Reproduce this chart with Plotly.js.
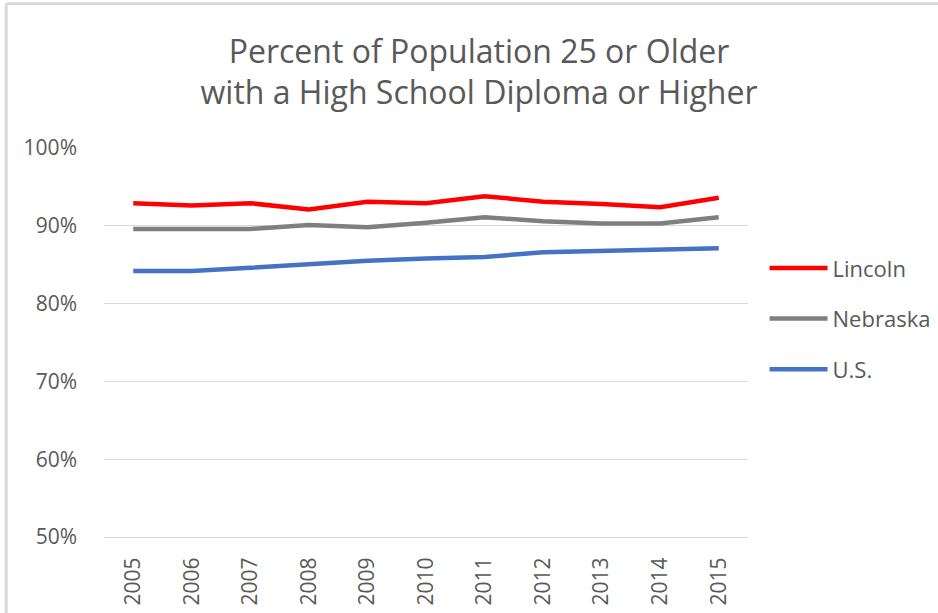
<!DOCTYPE html>
<html>
<head>
<meta charset="utf-8">
<script src="https://cdn.plot.ly/plotly-3.0.1.min.js"></script>
<style>html,body{margin:0;padding:0;background:#fff;}#chart{width:938px;height:613px;}</style>
</head>
<body>
<div id="chart"></div>
<script>
const years = ["2005","2006","2007","2008","2009","2010","2011","2012","2013","2014","2015"];
const lincoln = [0.929,0.926,0.929,0.921,0.931,0.929,0.938,0.931,0.928,0.924,0.936];
const nebraska = [0.896,0.896,0.896,0.901,0.898,0.904,0.911,0.906,0.903,0.903,0.911];
const us = [0.842,0.842,0.846,0.851,0.855,0.858,0.860,0.866,0.868,0.870,0.871];
const seriesNames = ["Lincoln","Nebraska","U.S."];
const yTicks = [0.5,0.6,0.7,0.8,0.9,1.0];
const yTickText = ["50%","60%","70%","80%","90%","100%"];

const colors = ["#FF0000","#7F7F7F","#4472C4"];
const seriesData = [lincoln, nebraska, us];
const traces = seriesData.map((d,i)=>({
  type:'scatter', mode:'lines', x:years, y:d, name:seriesNames[i],
  legendgroup:'g'+i,
  line:{color:colors[i], width:4.5}, hoverinfo:'skip'
}));

const fam = '"Open Sans", Lato, sans-serif';
const layout = {
  width:938, height:613,
  margin:{l:104, r:190, t:148, b:76, autoexpand:false},
  paper_bgcolor:'#fff', plot_bgcolor:'#fff',
  font:{family:fam, color:'#595959'},
  title:{text:'Percent of Population 25 or Older<br>with a High School Diploma or Higher',
    font:{size:32, color:'#595959', family:fam},
    x:0.5107, xref:'container', xanchor:'center', y:0.898, yref:'container', yanchor:'middle'},
  xaxis:{type:'category', range:[-0.5, years.length-0.5], showgrid:false, zeroline:false, showline:true, linecolor:'#d9d9d9', linewidth:1,
    ticks:'', tickangle:-90, tickfont:{size:21, color:'#595959', family:fam}, ticklabelstandoff:11, fixedrange:true},
  yaxis:{range:[0.5,1.0], tickvals:yTicks, ticktext:yTickText, showgrid:true, gridcolor:'#d9d9d9', gridwidth:1,
    zeroline:false, showline:false, ticks:'', tickfont:{size:21, color:'#595959', family:fam}, ticklabelstandoff:26, fixedrange:true},
  legend:{x:1.0257, xanchor:'left', y:0.745, yanchor:'top', font:{size:22, color:'#595959', family:fam},
    traceorder:'grouped', tracegroupgap:19, itemwidth:58, bgcolor:'rgba(0,0,0,0)'},
  shapes:[
    {type:'line', xref:'paper', yref:'paper', x0:-0.1519, x1:1.3, y0:1.3707, y1:1.3707, line:{color:'#d9d9d9', width:3}},
    {type:'line', xref:'paper', yref:'paper', x0:-0.1519, x1:-0.1519, y0:1.3707, y1:-0.25, line:{color:'#d9d9d9', width:3}}
  ]
};
Plotly.newPlot('chart', traces, layout, {displayModeBar:false, staticPlot:true});
</script>
</body>
</html>
